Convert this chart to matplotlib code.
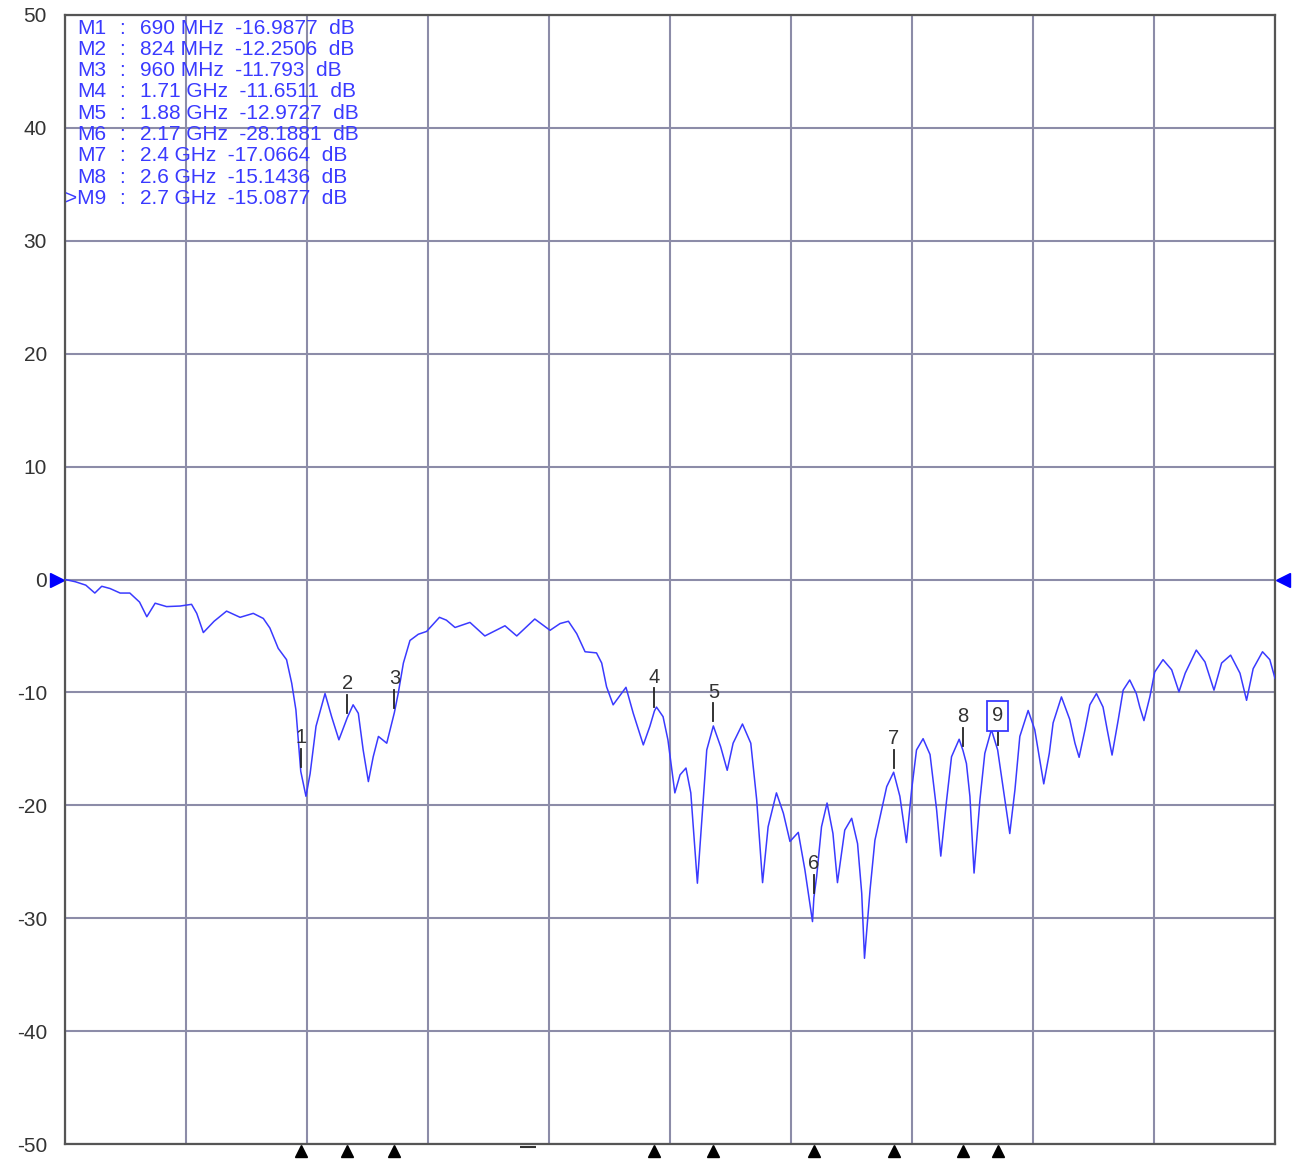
import matplotlib.pyplot as plt

plt.rcParams['font.family'] = ['Liberation Sans', 'DejaVu Sans']
plt.rcParams['axes.unicode_minus'] = False

# trace (MHz, dB)
freq = [10, 40, 70, 96, 116, 140, 169, 197, 225, 246, 270, 303, 342, 375, 390, 409, 440, 476,
        515, 553, 582, 601, 625, 649, 664, 676, 690, 705, 717, 734, 760, 779, 800, 824, 841,
        856, 870, 885, 899, 914, 938, 960, 971, 986, 1005, 1029, 1053, 1090, 1110, 1135, 1178,
        1221, 1279, 1313, 1365, 1409, 1438, 1462, 1486, 1510, 1543, 1558, 1572, 1591, 1628,
        1649, 1678, 1697, 1710, 1716, 1735, 1749, 1769, 1784, 1801, 1815, 1834, 1851, 1861,
        1880, 1901, 1920, 1937, 1964, 1988, 2005, 2022, 2038, 2062, 2082, 2101, 2125, 2144,
        2166, 2170, 2178, 2192, 2208, 2225, 2238, 2259, 2279, 2296, 2308, 2316, 2332, 2346,
        2360, 2380, 2400, 2418, 2437, 2452, 2466, 2485, 2505, 2524, 2536, 2553, 2567, 2589,
        2600, 2610, 2620, 2632, 2649, 2663, 2682, 2700, 2721, 2735, 2750, 2764, 2788, 2807,
        2820, 2833, 2849, 2860, 2884, 2908, 2923, 2935, 2952, 2966, 2985, 3004, 3016, 3030,
        3048, 3062, 3081, 3100, 3110, 3122, 3139, 3153, 3177, 3202, 3223, 3241, 3273, 3298,
        3324, 3346, 3372, 3399, 3418, 3437, 3464, 3485, 3500]
s11 = [0.0, -0.2, -0.5, -1.2, -0.6, -0.8, -1.2, -1.2, -2.0, -3.3, -2.1, -2.4, -2.35, -2.2, -3.0,
       -4.7, -3.7, -2.8, -3.35, -3.0, -3.45, -4.3, -6.1, -7.1, -9.2, -11.55, -16.99, -19.2,
       -17.2, -13.0, -10.1, -12.15, -14.2, -12.25, -11.1, -11.85, -15.1, -17.9, -15.7, -13.9,
       -14.5, -11.79, -10.1, -7.4, -5.4, -4.85, -4.6, -3.35, -3.6, -4.25, -3.8, -5.0, -4.1,
       -5.0, -3.5, -4.5, -3.9, -3.7, -4.8, -6.4, -6.5, -7.4, -9.5, -11.1, -9.55, -11.85,
       -14.65, -13.0, -11.65, -11.3, -12.15, -14.2, -18.9, -17.3, -16.7, -18.9, -26.9, -19.5,
       -15.1, -12.97, -14.8, -16.9, -14.5, -12.8, -14.5, -19.5, -26.85, -21.9, -18.9, -20.7,
       -23.2, -22.4, -25.7, -30.3, -28.19, -26.3, -21.9, -19.8, -22.5, -26.85, -22.2, -21.15,
       -23.4, -27.8, -33.55, -27.5, -23.1, -21.15, -18.35, -17.07, -19.2, -23.3, -18.6, -15.1,
       -14.1, -15.5, -20.4, -24.5, -19.5, -15.7, -14.15, -15.14, -16.3, -19.2, -26.0, -19.5,
       -15.4, -13.3, -15.09, -19.5, -22.5, -18.6, -13.9, -11.6, -13.3, -15.7, -18.1, -15.4,
       -12.7, -10.4, -12.4, -14.5, -15.75, -13.3, -11.1, -10.1, -11.3, -13.3, -15.55, -12.4,
       -9.8, -8.9, -10.1, -11.3, -12.5, -10.4, -8.2, -7.1, -8.0, -9.95, -8.3, -6.25, -7.3,
       -9.8, -7.4, -6.7, -8.3, -10.7, -7.9, -6.4, -7.1, -8.75]

mk_freq = [690, 824, 960, 1710, 1880, 2170, 2400, 2600, 2700]
mk_val = [-16.9877, -12.2506, -11.793, -11.6511, -12.9727, -28.1881, -17.0664, -15.1436, -15.0877]
mk_text = ['690 MHz  -16.9877  dB', '824 MHz  -12.2506  dB', '960 MHz  -11.793  dB',
           '1.71 GHz  -11.6511  dB', '1.88 GHz  -12.9727  dB', '2.17 GHz  -28.1881  dB',
           '2.4 GHz  -17.0664  dB', '2.6 GHz  -15.1436  dB', '2.7 GHz  -15.0877  dB']

blue = '#3a3aff'

fig = plt.figure(figsize=(12.94, 11.61), dpi=100)
ax = fig.add_axes([65/1294, 1 - 1144/1161, 1210/1294, 1129/1161])

ax.plot(freq, s11, color=blue, lw=1.1, zorder=3)

ax.set_xlim(10, 3500)
ax.set_ylim(-50, 50)
ax.set_xticks([10 + 349*i for i in range(11)])
ax.set_xticklabels([])
ax.set_yticks(range(-50, 51, 10))
ax.tick_params(length=0, labelsize=15, labelcolor='#333333', pad=13)
ax.grid(True, color='#8c8ca8', lw=1.5)
for s in ax.spines.values():
    s.set_color('#555555')
    s.set_linewidth(1.6)

# marker table
for i, t in enumerate(mk_text):
    yy = 1 - (13 + 21.3*i)/1129
    name = 'M%d' % (i+1)
    if i == 8:
        ax.text(0.0, yy, '>' + name, transform=ax.transAxes, color=blue, fontsize=15, va='center')
    else:
        ax.text(0.0099, yy, name, transform=ax.transAxes, color=blue, fontsize=15, va='center')
    ax.text(0.045, yy, ':', transform=ax.transAxes, color=blue, fontsize=15, va='center')
    ax.text(0.062, yy, t, transform=ax.transAxes, color=blue, fontsize=15, va='center')

# markers on the trace
for i, (f, v) in enumerate(zip(mk_freq, mk_val)):
    ax.plot([f, f], [v + 0.4, v + 2.0], color='#222222', lw=1.3, zorder=4)
    if i == 8:
        ax.text(f, v + 3.0, str(i+1), ha='center', va='center', fontsize=14.5, color='#333333',
                bbox=dict(boxstyle='square,pad=0.25', fc='white', ec=blue, lw=1.3), zorder=5)
    else:
        ax.text(f, v + 3.0, str(i+1), ha='center', va='center', fontsize=14.5, color='#333333', zorder=5)
    ax.plot(f, -0.0062, marker='^', color='black', ms=8, transform=ax.get_xaxis_transform(),
            clip_on=False)

ax.plot(1345, -0.003, marker='_', color='#333333', ms=12, mew=1.5,
        transform=ax.get_xaxis_transform(), clip_on=False)

# reference level arrows
ax.plot(-0.0066, 0, marker='>', color='blue', ms=10, transform=ax.get_yaxis_transform(), clip_on=False)
ax.plot(1.0066, 0, marker='<', color='blue', ms=10, transform=ax.get_yaxis_transform(), clip_on=False)

fig.savefig('out.png', dpi=100)
